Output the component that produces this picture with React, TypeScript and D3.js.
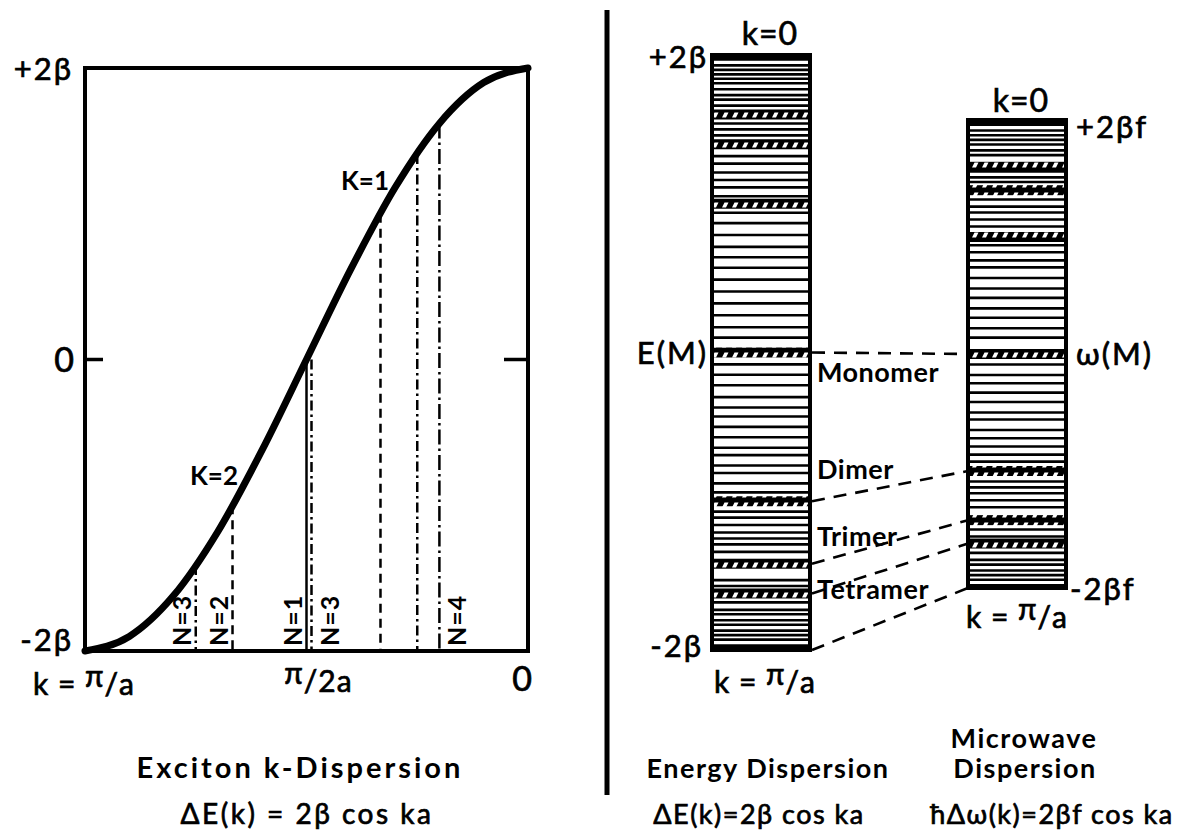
import React from 'react';
import * as d3 from 'd3';

const width = 1196;
const height = 834;
const font = "Lato, 'DejaVu Sans', sans-serif";

// exciton k-dispersion (k in pi/a, E in beta)
const curveK = [1, 0.9, 0.8, 0.7, 0.6, 0.5, 0.4, 0.3, 0.2, 0.1, 0];
const curveE = [-2, -1.9, -1.62, -1.18, -0.62, 0, 0.62, 1.18, 1.62, 1.9, 2];

// vertical lines dropped from the curve
const modeK = [0.75, 0.667, 0.5, 0.5, 0.333, 0.25, 0.2];
const modeE = [-1.41, -1.0, 0, 0, 1.0, 1.41, 1.62];
const modeN = [3, 2, 1, 3, 2, 3, 4];
const modeLabel = ['N=3', 'N=2', 'N=1', 'N=3', '', '', 'N=4'];
const modeSide = ['left', 'left', 'left', 'right', '', '', 'right'];
const dashByN: Record<number, string> = { 1: 'none', 2: '9 6', 3: '10 4 2.5 4', 4: '15 4 2.5 4' };

// aggregate bands (E / beta), same in both columns
const bandE = [1.6, 1.4, 1.0, 0, -1.0, -1.42, -1.62];
// bands joined across the two columns
const linkE = [0, -1.0, -1.42, -1.62, -2];
const linkName = ['Monomer', 'Dimer', 'Trimer', 'Tetramer', ''];

// horizontal level lines inside each column (E / beta)
const energyLevels = [
  1.97, 1.93, 1.9, 1.87, 1.84, 1.81, 1.77, 1.73, 1.7, 1.66,
  1.54, 1.5, 1.46,
  1.32, 1.27, 1.21, 1.16, 1.11, 1.05,
  0.94, 0.87, 0.79, 0.71, 0.64, 0.57, 0.49, 0.41, 0.33, 0.25, 0.17, 0.1,
  -0.08, -0.15, -0.22, -0.3, -0.37, -0.43, -0.5, -0.57, -0.64, -0.69, -0.76, -0.81, -0.88, -0.94,
  -1.07, -1.11, -1.16, -1.21, -1.25, -1.29, -1.34,
  -1.53, -1.57,
  -1.68, -1.73, -1.76, -1.8, -1.83, -1.87, -1.9, -1.93, -1.97,
];
const microLevels = [
  1.96, 1.91, 1.87, 1.83, 1.79, 1.74, 1.7,
  1.56, 1.51, 1.47,
  1.32, 1.26, 1.21, 1.15, 1.09,
  0.93, 0.87, 0.8, 0.74, 0.65, 0.56, 0.48, 0.39, 0.31, 0.22, 0.14,
  -0.09, -0.18, -0.25, -0.33, -0.41, -0.5, -0.56, -0.65, -0.72, -0.79, -0.86, -0.92,
  -1.09, -1.14, -1.19, -1.25, -1.31,
  -1.5, -1.56,
  -1.7, -1.76, -1.8, -1.85, -1.89, -1.93,
];

const xK = d3.scaleLinear().domain([1, 0]).range([85, 528]);
const yE = d3.scaleLinear().domain([-2, 2]).range([651, 68]);
const eBar = { x0: 712, x1: 810, y: d3.scaleLinear().domain([-2, 2]).range([650, 55]) };
const mBar = { x0: 968, x1: 1066, y: d3.scaleLinear().domain([-2, 2]).range([588, 120]) };

// slightly heavier, wider lettering, like the hand-lettered original
const med = { stroke: '#000', strokeWidth: 0.7 };

const PiOver = ({ pre, post }: { pre: string; post: string }) => (
  <>
    {pre}
    <tspan dy={-8}>π</tspan>
    <tspan dy={8}>{post}</tspan>
  </>
);

function Column({ bar, levels }: { bar: typeof eBar; levels: number[] }) {
  const w = bar.x1 - bar.x0;
  return (
    <g>
      <rect x={bar.x0} y={bar.y(2)} width={w} height={bar.y(-2) - bar.y(2)} fill="#fff" />
      {levels.map((e, i) => (
        <line key={i} x1={bar.x0} x2={bar.x1} y1={bar.y(e)} y2={bar.y(e)} stroke="#000" strokeWidth={2.6} />
      ))}
      {bandE.map((e, i) => (
        <rect key={'b' + i} x={bar.x0} y={bar.y(e) - 5} width={w} height={10} fill="url(#band)" />
      ))}
      <rect x={bar.x0} y={bar.y(2)} width={w} height={bar.y(-2) - bar.y(2)} fill="none" stroke="#000" strokeWidth={4} />
      <line x1={bar.x0} x2={bar.x1} y1={bar.y(2) + 1.5} y2={bar.y(2) + 1.5} stroke="#000" strokeWidth={5} />
      <line x1={bar.x0} x2={bar.x1} y1={bar.y(-2) - 1.5} y2={bar.y(-2) - 1.5} stroke="#000" strokeWidth={5} />
    </g>
  );
}

export default function App() {
  const pts = curveK.map((k, i) => [xK(k), yE(curveE[i])] as [number, number]);
  const curvePath = d3.line().curve(d3.curveMonotoneX)(pts) || '';

  return (
    <svg width={width} height={height} style={{ position: 'absolute', left: 0, top: 0, background: '#fff' }}
      fontFamily={font}>
      <defs>
        <pattern id="band" width={10} height={10} patternUnits="userSpaceOnUse">
          <rect width={10} height={10} fill="#000" />
          <polygon points="2,7.5 4.5,2.5 8.5,2.5 6,7.5" fill="#fff" />
        </pattern>
      </defs>
      <rect width={width} height={height} fill="#fff" />

      {/* left panel */}
      {modeK.map((k, i) => {
        const dup = modeK.slice(0, i).includes(k) ? 5 : 0;
        const x = xK(k) + dup;
        return (
          <line key={i} x1={x} x2={x} y1={yE(modeE[i])} y2={yE(-2)} stroke="#000" strokeWidth={2.5}
            strokeDasharray={dashByN[modeN[i]]} />
        );
      })}
      {modeK.map((k, i) => {
        if (!modeLabel[i]) return null;
        const dup = modeK.slice(0, i).includes(k) ? 5 : 0;
        const x = xK(k) + dup + (modeSide[i] === 'left' ? -5 : 27);
        return (
          <text key={'l' + i} transform={`translate(${x},${yE(-2) - 5}) rotate(-90)`} fontSize={25}
            fontWeight="bold" letterSpacing={1}>{modeLabel[i]}</text>
        );
      })}
      <rect x={xK(1)} y={yE(2)} width={xK(0) - xK(1)} height={yE(-2) - yE(2)} fill="none" stroke="#000" strokeWidth={4} />
      <line x1={xK(1)} x2={xK(1) + 18} y1={yE(0)} y2={yE(0)} stroke="#000" strokeWidth={3.5} />
      <line x1={xK(0) - 24} x2={xK(0)} y1={yE(0)} y2={yE(0)} stroke="#000" strokeWidth={3.5} />
      <path d={curvePath} fill="none" stroke="#000" strokeWidth={7} strokeLinecap="round" />
      <text x={389} y={190} textAnchor="end" fontSize={26} fontWeight="bold">K=1</text>
      <text x={238} y={485} textAnchor="end" fontSize={26} fontWeight="bold">K=2</text>

      <g {...med} letterSpacing={2}>
        <text x={73} y={yE(2) + 12} textAnchor="end" fontSize={31}>+2β</text>
        <text x={74} y={yE(0) + 12} textAnchor="end" fontSize={34} letterSpacing={0}>0</text>
        <text x={73} y={yE(-2)} textAnchor="end" fontSize={31}>-2β</text>
        <text x={33} y={695} fontSize={30} letterSpacing={1}><PiOver pre="k = " post="/a" /></text>
        <text x={xK(0.5) + 12} y={692} textAnchor="middle" fontSize={30} letterSpacing={1}><PiOver pre="" post="/2a" /></text>
        <text x={xK(0) - 6} y={691} textAnchor="middle" fontSize={34} letterSpacing={0}>0</text>
        <text x={307} y={824} textAnchor="middle" fontSize={28} letterSpacing={2.5}>ΔE(k) = 2β cos ka</text>
      </g>
      <text x={300} y={778} textAnchor="middle" fontSize={29} fontWeight="bold" letterSpacing={3}>Exciton k-Dispersion</text>

      {/* separator */}
      <line x1={607} x2={607} y1={10} y2={795} stroke="#000" strokeWidth={5} />

      {/* right panel */}
      <Column bar={eBar} levels={energyLevels} />
      <Column bar={mBar} levels={microLevels} />
      {linkE.map((e, i) => (
        <line key={'k' + i} x1={eBar.x1 + 2} x2={mBar.x0} y1={eBar.y(e)} y2={mBar.y(e)} stroke="#000"
          strokeWidth={2.6} strokeDasharray="13 9" />
      ))}
      {linkName.map((n, i) => n && (
        <text key={'n' + i} x={eBar.x1 + 7} y={eBar.y(linkE[i]) + (i === 0 ? 29 : i === 1 ? -22 : i === 2 ? -18 : 6)}
          fontSize={27} fontWeight="bold" letterSpacing={0.5}>{n}</text>
      ))}

      <g {...med} letterSpacing={2}>
        <text x={770} y={45} textAnchor="middle" fontSize={32} letterSpacing={1}>k=0</text>
        <text x={eBar.x0 - 4} y={eBar.y(2) + 13} textAnchor="end" fontSize={31}>+2β</text>
        <text x={eBar.x0 - 4} y={eBar.y(0) + 11} textAnchor="end" fontSize={31}>E(M)</text>
        <text x={eBar.x0 - 9} y={eBar.y(-2) + 7} textAnchor="end" fontSize={31}>-2β</text>
        <text x={eBar.x0 + 2} y={693} fontSize={30} letterSpacing={1}><PiOver pre="k = " post="/a" /></text>

        <text x={1021} y={112} textAnchor="middle" fontSize={32} letterSpacing={1}>k=0</text>
        <text x={mBar.x1 + 10} y={mBar.y(2) + 18} fontSize={31}>+2βf</text>
        <text x={mBar.x1 + 10} y={mBar.y(0) + 11} fontSize={31}>ω(M)</text>
        <text x={mBar.x1 + 4} y={mBar.y(-2) + 12} fontSize={31}>-2βf</text>
        <text x={mBar.x0 - 2} y={628} fontSize={30} letterSpacing={1}><PiOver pre="k = " post="/a" /></text>

        <text x={759} y={824} textAnchor="middle" fontSize={27} letterSpacing={1.5}>ΔE(k)=2β cos ka</text>
        <text x={1052} y={824} textAnchor="middle" fontSize={27} letterSpacing={1.5}>ħΔω(k)=2βf cos ka</text>
      </g>
      <text x={1024} y={748} textAnchor="middle" fontSize={27} fontWeight="bold" letterSpacing={1.5}>Microwave</text>
      <text x={768} y={778} textAnchor="middle" fontSize={27} fontWeight="bold" letterSpacing={1.5}>Energy Dispersion</text>
      <text x={1025} y={778} textAnchor="middle" fontSize={27} fontWeight="bold" letterSpacing={1.5}>Dispersion</text>
    </svg>
  );
}
